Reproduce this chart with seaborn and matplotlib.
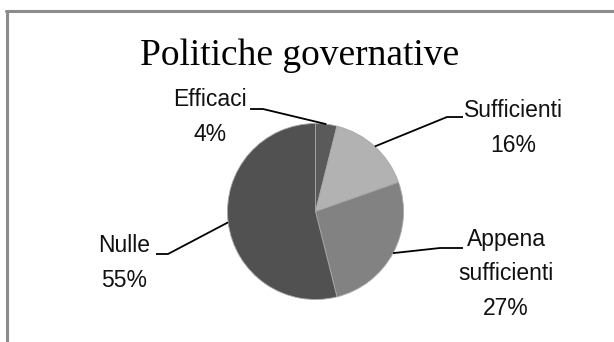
import numpy as np
import matplotlib
matplotlib.use("Agg")
import matplotlib.pyplot as plt
import seaborn as sns

# data
categories = ["Efficaci", "Sufficienti", "Appena\nsufficienti", "Nulle"]
shares = [4, 16, 27, 55]
pct_labels = ["4%", "16%", "27%", "55%"]
slice_colors = ["#5a5a5a", "#b2b2b2", "#828282", "#515151"]

sns.set_theme(style="white")
plt.rcParams['font.family'] = ['Liberation Sans', 'DejaVu Sans']

W, H = 614, 342
fig = plt.figure(figsize=(W / 100, H / 100), dpi=100)
ax = fig.add_axes([0, 0, 1, 1])


def py(y):
    # pixel row from top -> data y
    return H - y


cx, cy, r = 315.5, py(211.5), 88
wedges, _ = ax.pie(shares, colors=slice_colors, startangle=90, counterclock=False,
                   center=(cx, cy), radius=r, frame=True,
                   wedgeprops=dict(edgecolor='#a8a8a8', linewidth=0.6))
ax.set_xlim(0, W)
ax.set_ylim(0, H)
ax.set_aspect('equal')
ax.axis('off')

# frame (only top/left visible in the original crop)
ax.plot([6, W + 5], [py(11), py(11)], color='#8c8c8c', lw=2.2, clip_on=False)
ax.plot([7, 7], [py(11), py(H + 5)], color='#8c8c8c', lw=2.2, clip_on=False)

ax.text(300, py(56), "Politiche governative", ha='center', va='center',
        fontsize=27, family=['Liberation Serif', 'DejaVu Serif'], color='black')

# label layout: text centre, elbow, end of horizontal stub
layout = [
    dict(txt=(210, 117), elbow=(263, 109), end=(250, 109)),
    dict(txt=(513, 128), elbow=(447, 117), end=(463, 117)),
    dict(txt=(506, 274), elbow=(440, 248), end=(463, 248)),
    dict(txt=(124, 263), elbow=(168, 254), end=(156, 254)),
]

for w, name, pct, lay in zip(wedges, categories, pct_labels, layout):
    mid = np.deg2rad((w.theta1 + w.theta2) / 2)
    ex, ey = cx + r * np.cos(mid), cy + r * np.sin(mid)
    (bx, by), (sx, sy) = lay['elbow'], lay['end']
    ax.plot([ex, bx, sx], [ey, py(by), py(sy)], color='black', lw=1.3,
            solid_capstyle='butt')
    tx, ty = lay['txt']
    ax.text(tx, py(ty), name + "\n" + pct, ha='center', va='center',
            fontsize=16.5, linespacing=1.62, color='#111111')

fig.savefig("out.png", dpi=100, facecolor='white')
